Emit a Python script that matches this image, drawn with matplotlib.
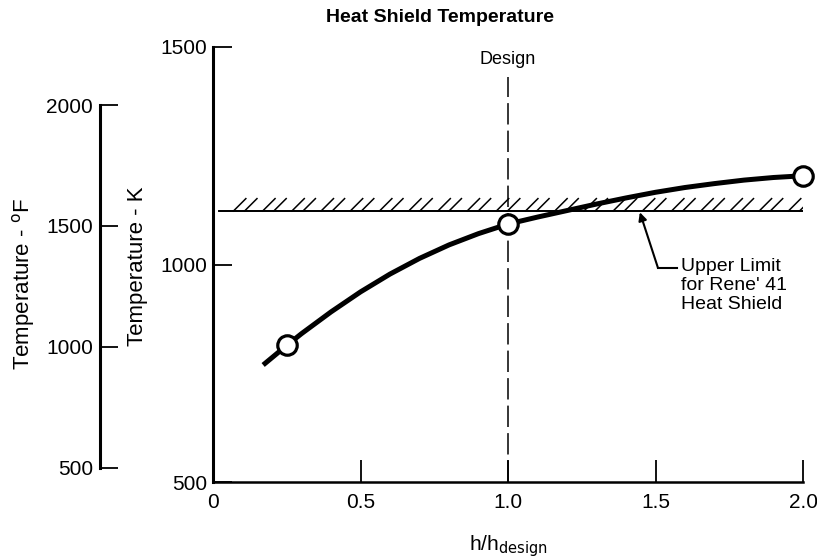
import matplotlib
matplotlib.use("Agg")
import matplotlib.pyplot as plt
import matplotlib.patheffects as pe

plt.rcParams['font.family'] = ['Liberation Sans', 'DejaVu Sans']

# curve (h/h_design, K)
curve_x = [0.17, 0.25, 0.30, 0.40, 0.50, 0.60, 0.70, 0.80, 0.90, 1.00,
           1.10, 1.20, 1.30, 1.40, 1.50, 1.60, 1.70, 1.80, 1.90, 2.00]
curve_k = [769, 814, 841, 891, 937, 978, 1014, 1045, 1071, 1093,
           1109, 1124, 1139, 1153, 1166, 1177, 1186, 1194, 1200, 1204]

# circled data points
pts_x = [0.25, 1.0, 2.0]
pts_k = [814, 1093, 1204]

limit_k = 1123          # upper limit for Rene' 41
design_x = 1.0

x_ticks = [0, 0.5, 1.0, 1.5, 2.0]
x_labels = ["0", "0.5", "1.0", "1.5", "2.0"]
k_ticks = [500, 1000, 1500]
f_ticks = [500, 1000, 1500, 2000]


def k2f(k):
    return (k - 273.15) * 1.8 + 32


def f2k(f):
    return (f - 32) / 1.8 + 273.15


fig = plt.figure(figsize=(8.17, 5.60), dpi=100)
ax = fig.add_axes([213 / 817, 78 / 560, 590 / 817, 435 / 560])
ax.set_xlim(0, 2.0)
ax.set_ylim(500, 1500)

ax.spines['top'].set_visible(False)
ax.spines['right'].set_visible(False)
ax.spines['left'].set_linewidth(2.2)
ax.spines['bottom'].set_linewidth(1.8)

ax.set_xticks(x_ticks)
ax.set_xticklabels(x_labels)
ax.set_yticks(k_ticks)
ax.tick_params(axis='x', direction='in', length=16, width=1.3, pad=8, labelsize=15)
ax.tick_params(axis='y', direction='in', length=14, width=1.3, pad=4, labelsize=15)

# design line
ax.plot([design_x, design_x], [500, 1432], color='black', lw=1.1,
        linestyle=(0, (14, 4)), clip_on=False)
ax.text(design_x, 1452, "Design", ha='center', va='bottom', fontsize=13)

# hatched limit line
ax.plot([0.02, 2.0], [limit_k, limit_k], color='black', lw=1.1,
        path_effects=[pe.Normal(),
                      pe.withTickedStroke(angle=45, spacing=21, length=0.6),
                      pe.withTickedStroke(angle=45, spacing=21, length=0.6, offset=(8, 0))])

# curve and points
ax.plot(curve_x, curve_k, color='black', lw=3.6, solid_capstyle='butt',
        solid_joinstyle='round', clip_on=False)
ax.plot(pts_x, pts_k, 'o', ms=14, mfc='white', mec='black', mew=2.3, clip_on=False, zorder=5)

# annotation
ax.plot([1.508, 1.573], [993, 993], color='black', lw=1.5)
ax.annotate("", xy=(1.447, limit_k - 3), xytext=(1.508, 993),
            arrowprops=dict(arrowstyle='-|>', color='black', lw=1.5, mutation_scale=12,
                            shrinkA=0, shrinkB=0))
ax.text(1.585, 1014, "Upper Limit\nfor Rene' 41\nHeat Shield", ha='left', va='top',
        fontsize=14, linespacing=1.12)

# Fahrenheit axis
sec = ax.secondary_yaxis(-113 / 590, functions=(k2f, f2k))
sec.set_yticks(f_ticks)
sec.spines['left'].set_bounds(500, 2000)
sec.spines['left'].set_linewidth(2.2)
sec.tick_params(axis='y', direction='in', length=13, width=1.3, pad=5, labelsize=15)

fig.text(137 / 817, 1 - 266 / 560, "Temperature - K", rotation=90, ha='center', va='center', fontsize=16)
fig.text(24 / 817, 1 - 284 / 560, "Temperature - $^{\\mathrm{o}}$F", rotation=90, ha='center', va='center', fontsize=16)
fig.text(508 / 817, 1 - 546 / 560, "h/h$_{\\mathrm{design}}$", ha='center', va='center', fontsize=15)
fig.text(440 / 817, 1 - 17 / 560, "Heat Shield Temperature", ha='center', va='center',
         fontsize=14, fontweight='bold')

fig.savefig("out.png", dpi=100)
